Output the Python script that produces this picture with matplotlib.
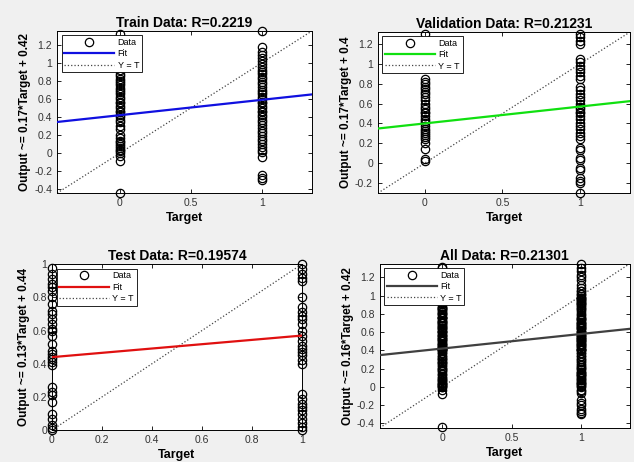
import matplotlib.pyplot as plt
import numpy as np
from matplotlib.ticker import FormatStrFormatter

plt.rcParams['font.family'] = ['Liberation Sans', 'DejaVu Sans']

# outputs, grouped by target value (0 or 1)
train_t0 = [1.32, 0.92, 0.88, 0.85, 0.82, 0.80, 0.77, 0.75, 0.72, 0.70, 0.68, 0.65,
            0.62, 0.60, 0.57, 0.55, 0.52, 0.50, 0.47, 0.45, 0.42, 0.40, 0.37, 0.34,
            0.30, 0.27, 0.20, 0.17, 0.14, 0.12, 0.10, 0.08, 0.06, 0.04, 0.02, 0.0,
            -0.03, -0.08, -0.44]
train_t1 = [1.35, 1.17, 1.12, 1.08, 1.05, 1.02, 0.98, 0.95, 0.92, 0.90, 0.87, 0.84,
            0.82, 0.79, 0.76, 0.73, 0.70, 0.68, 0.65, 0.62, 0.60, 0.57, 0.55, 0.52,
            0.50, 0.47, 0.45, 0.42, 0.40, 0.37, 0.34, 0.31, 0.28, 0.25, 0.22, 0.19,
            0.16, 0.13, 0.10, 0.07, 0.04, 0.01, -0.04, -0.24, -0.27, -0.29]
val_t0 = [1.30, 0.85, 0.82, 0.80, 0.77, 0.75, 0.72, 0.70, 0.67, 0.64, 0.60, 0.57,
          0.55, 0.52, 0.50, 0.47, 0.44, 0.42, 0.40, 0.37, 0.34, 0.32, 0.30, 0.28,
          0.26, 0.24, 0.20, 0.14, 0.04, 0.02]
val_t1 = [1.30, 1.27, 1.23, 1.20, 1.05, 1.02, 0.98, 0.95, 0.92, 0.88, 0.85, 0.77,
          0.74, 0.70, 0.67, 0.64, 0.60, 0.57, 0.55, 0.52, 0.50, 0.47, 0.44, 0.40,
          0.37, 0.34, 0.30, 0.27, 0.24, 0.15, 0.13, 0.05, 0.03, -0.05, -0.07,
          -0.15, -0.18, -0.20, -0.30]
test_t0 = [0.98, 0.94, 0.91, 0.88, 0.86, 0.84, 0.80, 0.76, 0.72, 0.70, 0.67, 0.64,
           0.61, 0.60, 0.57, 0.52, 0.48, 0.46, 0.44, 0.43, 0.41, 0.39, 0.26, 0.23,
           0.21, 0.17, 0.10, 0.07, 0.03, 0.01, 0.0]
test_t1 = [1.0, 0.97, 0.94, 0.92, 0.90, 0.80, 0.74, 0.71, 0.69, 0.67, 0.64, 0.60,
           0.57, 0.54, 0.51, 0.49, 0.47, 0.45, 0.42, 0.40, 0.22, 0.19, 0.16, 0.14,
           0.12, 0.10, 0.07, 0.04, 0.02, 0.0]
all_t0 = train_t0 + val_t0 + test_t0
all_t1 = train_t1 + val_t1 + test_t1

titles = ['Train Data: R=0.2219', 'Validation Data: R=0.21231',
          'Test Data: R=0.19574', 'All Data: R=0.21301']
ylabels = ['Output ~= 0.17*Target + 0.42', 'Output ~= 0.17*Target + 0.4',
           'Output ~= 0.13*Target + 0.44', 'Output ~= 0.16*Target + 0.42']
slopes = [0.17, 0.17, 0.13, 0.16]
intercepts = [0.42, 0.40, 0.44, 0.42]
fit_colors = ['#1010e0', '#10e010', '#e01010', '#404040']
limits = [(-0.44, 1.35), (-0.30, 1.32), (0.0, 1.0), (-0.45, 1.35)]
xticks = [[0, 0.5, 1], [0, 0.5, 1], [0, 0.2, 0.4, 0.6, 0.8, 1], [0, 0.5, 1]]
yticks = [np.arange(-0.4, 1.21, 0.2), np.arange(-0.2, 1.21, 0.2),
          np.arange(0, 1.01, 0.2), np.arange(-0.4, 1.21, 0.2)]
groups = [(train_t0, train_t1), (val_t0, val_t1), (test_t0, test_t1), (all_t0, all_t1)]

# axes rectangles in figure fractions
positions = [[0.090, 0.582, 0.402, 0.351], [0.596, 0.582, 0.398, 0.349],
             [0.082, 0.069, 0.394, 0.359], [0.599, 0.074, 0.394, 0.355]]

fig = plt.figure(figsize=(6.34, 4.62), dpi=100, facecolor='#f0f0f0')

for i in range(4):
    ax = fig.add_axes(positions[i])
    lo, hi = limits[i]
    t0, t1 = groups[i]
    x = [0] * len(t0) + [1] * len(t1)
    y = t0 + t1
    ax.plot(x, y, 'o', mfc='none', mec='black', ms=6, mew=0.9, label='Data',
            zorder=3, clip_on=False)
    xs = np.array([lo, hi])
    ax.plot(xs, slopes[i] * xs + intercepts[i], color=fit_colors[i], lw=1.6, label='Fit', zorder=4)
    ax.plot(xs, xs, ':', color='#444444', lw=0.9, label='Y = T', zorder=2)
    ax.set_xlim(lo, hi)
    ax.set_ylim(lo, hi)
    ax.set_xticks(xticks[i])
    ax.set_yticks(yticks[i])
    ax.xaxis.set_major_formatter(FormatStrFormatter('%g'))
    ax.yaxis.set_major_formatter(FormatStrFormatter('%g'))
    ax.tick_params(direction='in', length=3, width=0.6, labelsize=7.5,
                   labelcolor='#333333', top=True, right=True)
    for s in ax.spines.values():
        s.set_linewidth(0.7)
    ax.set_title(titles[i], fontsize=10, fontweight='bold', pad=3)
    ax.set_xlabel('Target', fontsize=9, fontweight='bold', labelpad=3)
    ax.set_ylabel(ylabels[i], fontsize=8.5, fontweight='bold', labelpad=2)
    leg = ax.legend(loc='upper left', fontsize=6.5, fancybox=False, framealpha=1,
                    edgecolor='black', handlelength=5.5, borderaxespad=0.5,
                    borderpad=0.3, labelspacing=0.25, handletextpad=0.4)
    leg.get_frame().set_linewidth(0.6)

fig.savefig('out.png', dpi=100, facecolor=fig.get_facecolor())
